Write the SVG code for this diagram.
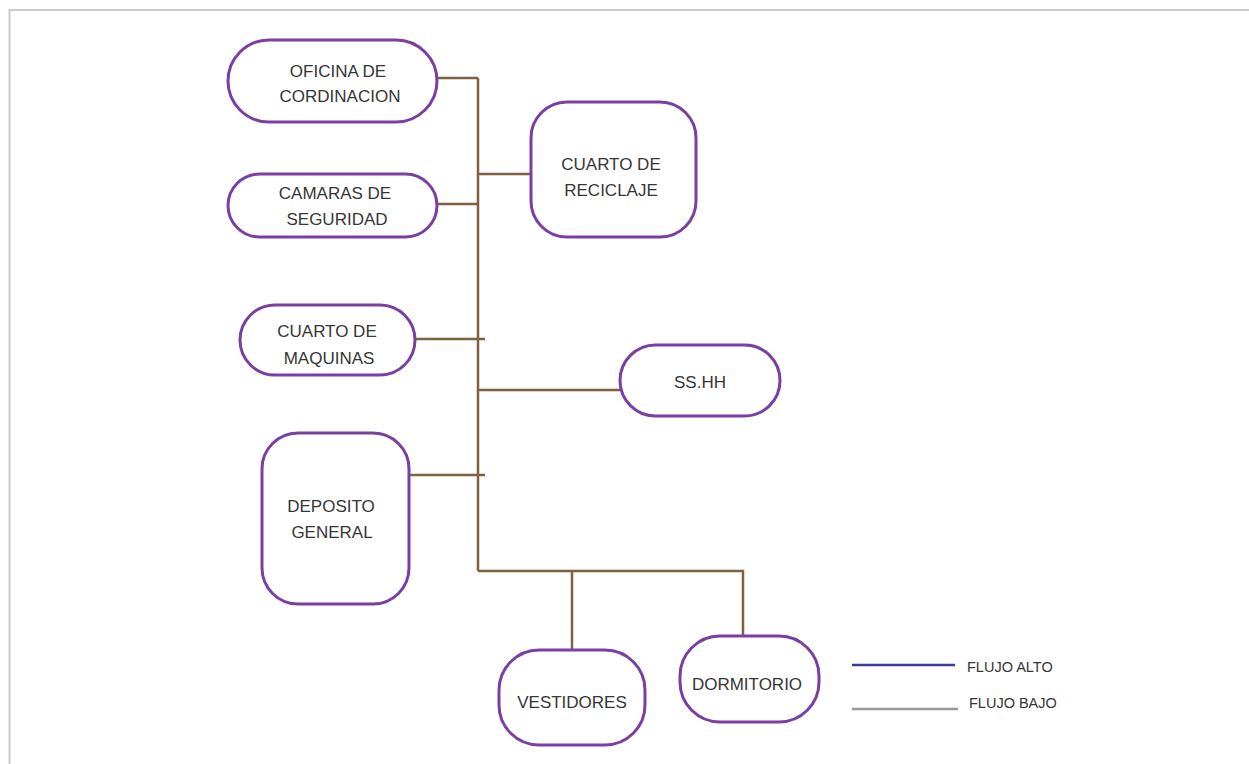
<svg xmlns="http://www.w3.org/2000/svg" width="1249" height="764" viewBox="0 0 1249 764">
<style>
.node{fill:#fff;stroke:#7a3fa3;stroke-width:3}
.lbl{font-family:"Liberation Sans",Arial,sans-serif;font-size:17px;fill:#363636;text-anchor:middle}
.leg{font-family:"Liberation Sans",Arial,sans-serif;font-size:14.5px;fill:#363636}
.con{stroke:#7f603f;stroke-width:2.5;fill:none}
</style>
<rect x="0" y="0" width="1249" height="764" fill="#fff"/>
<path d="M9.5 800 V10 H1300" fill="none" stroke="#cccccc" stroke-width="2"/>
<g id="connectors">
<path class="con" d="M478 78 V571"/>
<path class="con" d="M437 78 H478"/>
<path class="con" d="M478 174 H531"/>
<path class="con" d="M437 204 H478"/>
<path class="con" d="M415 339 H485"/>
<path class="con" d="M478 390 H620"/>
<path class="con" d="M409 475 H485"/>
<path class="con" d="M478 571 H743 V636"/>
<path class="con" d="M572 571 V650"/>
</g>
<g id="n-oficina"><rect class="node" x="228" y="40" width="209" height="82" rx="41"/><text class="lbl" x="338" y="77">OFICINA DE</text><text class="lbl" x="340" y="102">CORDINACION</text></g>
<g id="n-camaras"><rect class="node" x="228" y="174" width="209" height="63" rx="31.5"/><text class="lbl" x="335" y="199">CAMARAS DE</text><text class="lbl" x="337" y="225">SEGURIDAD</text></g>
<g id="n-reciclaje"><rect class="node" x="531" y="102" width="165" height="135" rx="36"/><text class="lbl" x="611" y="170">CUARTO DE</text><text class="lbl" x="611" y="196">RECICLAJE</text></g>
<g id="n-maquinas"><rect class="node" x="240" y="305" width="175" height="70" rx="35"/><text class="lbl" x="327" y="337">CUARTO DE</text><text class="lbl" x="329" y="364">MAQUINAS</text></g>
<g id="n-sshh"><rect class="node" x="620" y="345" width="160" height="71" rx="35.5"/><text class="lbl" x="700" y="388">SS.HH</text></g>
<g id="n-deposito"><rect class="node" x="262" y="433" width="147" height="171" rx="36"/><text class="lbl" x="331" y="512">DEPOSITO</text><text class="lbl" x="332" y="538">GENERAL</text></g>
<g id="n-vestidores"><rect class="node" x="499" y="650" width="146" height="95" rx="40"/><text class="lbl" x="572" y="708">VESTIDORES</text></g>
<g id="n-dormitorio"><rect class="node" x="680" y="636" width="139" height="86" rx="40"/><text class="lbl" x="747" y="690">DORMITORIO</text></g>
<g id="legend">
<line x1="852" y1="665" x2="955" y2="665" stroke="#3b3b9b" stroke-width="2.5"/>
<text class="leg" x="967" y="672">FLUJO ALTO</text>
<line x1="852" y1="709" x2="958" y2="709" stroke="#999999" stroke-width="2.5"/>
<text class="leg" x="969" y="708">FLUJO BAJO</text>
</g>
</svg>
